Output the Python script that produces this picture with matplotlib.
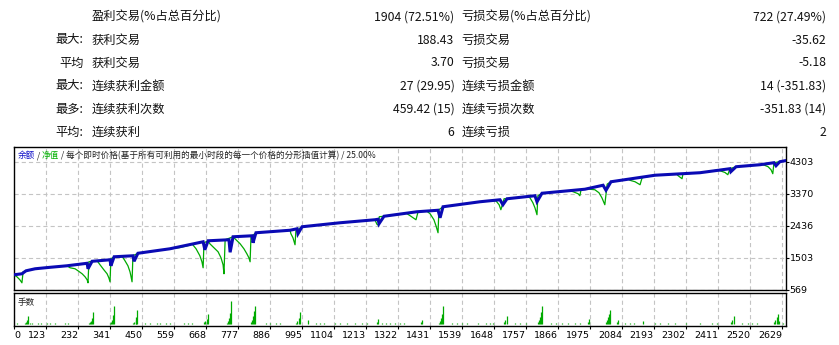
import matplotlib
matplotlib.use('Agg')
import matplotlib.pyplot as plt

plt.rcParams['font.family'] = ['Noto Sans CJK SC', 'DejaVu Sans']
plt.rcParams['lines.scale_dashes'] = False

# ---------------- data ----------------
row_prefix = ['', '最大:', '平均', '最大:', '最多:', '平均:']
left_labels = ['盈利交易(%占总百分比)', '获利交易', '获利交易', '连续获利金额', '连续获利次数', '连续获利']
left_values = ['1904 (72.51%)', '188.43', '3.70', '27 (29.95)', '459.42 (15)', '6']
right_labels = ['亏损交易(%占总百分比)', '亏损交易', '亏损交易', '连续亏损金额', '连续亏损次数', '连续亏损']
right_values = ['722 (27.49%)', '-35.62', '-5.18', '14 (-351.83)', '-351.83 (14)', '2']

bal_trade = [14, 41, 55, 86, 137, 194, 263, 266, 280, 341, 344, 355, 419, 423, 436, 545, 658, 664, 675,
             746, 750, 760, 825, 828, 838, 954, 978, 981, 995, 1124, 1243, 1254, 1257, 1274, 1386, 1458,
             1465, 1475, 1601, 1669, 1679, 1693, 1788, 1795, 1812, 1958, 2020, 2030, 2047, 2197, 2350,
             2452, 2455, 2473, 2554, 2602, 2609, 2622, 2640]
bal_value = [1007, 1036, 1123, 1182, 1225, 1269, 1342, 1182, 1400, 1444, 1269, 1532, 1561, 1400, 1634,
             1765, 1969, 1736, 1998, 2028, 1663, 2115, 2144, 1940, 2232, 2305, 2348, 2203, 2407, 2523,
             2611, 2626, 2494, 2713, 2844, 2888, 2669, 2990, 3136, 3194, 3049, 3223, 3311, 3136, 3384,
             3501, 3617, 3471, 3719, 3909, 3982, 4099, 4011, 4157, 4215, 4274, 4186, 4303, 4332]

eq_trade = [14, 24, 34, 41, 45, 55, 86, 137, 194, 205, 222, 232, 246, 256, 263, 266, 269, 280, 297, 307,
            320, 331, 337, 341, 344, 355, 382, 392, 402, 409, 412, 416, 419, 436, 545, 579, 613, 620, 634,
            647, 654, 658, 661, 675, 681, 695, 709, 719, 726, 729, 733, 760, 770, 784, 797, 807, 814, 818,
            821, 838, 954, 957, 964, 971, 974, 995, 1124, 1243, 1250, 1255, 1258, 1274, 1350, 1363, 1383,
            1390, 1420, 1431, 1444, 1451, 1458, 1461, 1475, 1601, 1655, 1666, 1672, 1683, 1693, 1760,
            1771, 1781, 1788, 1795, 1798, 1812, 1905, 1918, 1935, 1941, 1945, 1968, 1975, 1992, 2006,
            2016, 2023, 2026, 2034, 2047, 2105, 2112, 2129, 2146, 2153, 2197, 2270, 2275, 2289, 2292,
            2350, 2410, 2418, 2435, 2445, 2452, 2473, 2554, 2560, 2570, 2582, 2592, 2598, 2602, 2622, 2640]
eq_value = [1007, 948, 861, 773, 1094, 1123, 1182, 1225, 1269, 1211, 1182, 1123, 1036, 948, 861, 773,
            1386, 1400, 1415, 1298, 1152, 1036, 919, 802, 1473, 1532, 1548, 1415, 1269, 1094, 977, 802,
            1561, 1634, 1765, 1800, 1870, 1911, 1765, 1561, 1386, 1211, 1940, 1998, 1911, 1794, 1677,
            1502, 1298, 1036, 2028, 2115, 2028, 1911, 1765, 1619, 1502, 1386, 2115, 2232, 2305, 2203,
            2086, 1882, 2290, 2407, 2523, 2611, 2480, 2450, 2700, 2713, 2800, 2728, 2611, 2844, 2860,
            2786, 2611, 2436, 2232, 2903, 2990, 3136, 3165, 3049, 2903, 3224, 3223, 3285, 3253, 3107,
            2961, 2757, 3311, 3384, 3460, 3428, 3370, 3311, 3486, 3520, 3500, 3486, 3399, 3253, 3107,
            3049, 3650, 3719, 3795, 3760, 3719, 3632, 3836, 3909, 3945, 3900, 3807, 3944, 3982, 4060,
            4040, 3990, 3924, 4099, 4157, 4215, 4225, 4200, 4157, 4069, 3953, 4274, 4303, 4332]

vol_trade = [24, 50, 54, 58, 62, 68, 75, 96, 106, 126, 137, 154, 188, 198, 268, 272, 276, 280, 283,
             340, 344, 348, 352, 355, 420, 424, 428, 431, 433, 460, 477, 501, 511, 532, 545, 593, 607,
             620, 662, 666, 670, 675, 738, 742, 746, 749, 753, 820, 824, 828, 831, 835, 872, 886, 906,
             920, 975, 979, 983, 988, 1015, 1042, 1056, 1070, 1107, 1124, 1148, 1175, 1199, 1216, 1250,
             1254, 1267, 1281, 1294, 1311, 1329, 1342, 1400, 1403, 1460, 1464, 1468, 1471, 1475, 1506,
             1523, 1540, 1557, 1594, 1621, 1635, 1645, 1683, 1687, 1693, 1720, 1737, 1758, 1797, 1801,
             1805, 1808, 1812, 1843, 1860, 1880, 1901, 1925, 1941, 1968, 1972, 2030, 2034, 2038, 2041,
             2044, 2068, 2071, 2094, 2112, 2125, 2156, 2197, 2214, 2241, 2265, 2303, 2350, 2391, 2408,
             2456, 2460, 2466, 2493, 2514, 2527, 2544, 2603, 2607, 2611, 2616, 2620, 2633]
vol_lots = [0.1, 0.1, 0.2, 0.4, 0.8, 0.1, 0.1, 0.1, 0.1, 0.15, 0.15, 0.1, 0.15, 0.15, 0.1, 0.2, 0.3, 0.6, 1.2,
            0.1, 0.2, 0.4, 0.9, 1.8, 0.1, 0.2, 0.4, 0.7, 1.4, 0.1, 0.1, 0.1, 0.1, 0.1, 0.1, 0.1, 0.1,
            0.1, 0.2, 0.3, 0.5, 1.0, 0.1, 0.3, 0.6, 1.1, 2.3, 0.2, 0.4, 0.8, 1.3, 1.8, 0.1, 0.1, 0.1,
            0.1, 0.1, 0.3, 0.6, 1.2, 0.4, 0.1, 0.1, 0.1, 0.1, 0.1, 0.1, 0.1, 0.1, 0.1, 0.2,
            0.5, 0.1, 0.1, 0.1, 0.1, 0.1, 0.1, 0.2, 0.4, 0.1, 0.3, 0.6, 1.0, 1.8, 0.1,
            0.1, 0.1, 0.1, 0.1, 0.1, 0.1, 0.1, 0.2, 0.4, 0.8, 0.1, 0.1, 0.1, 0.2, 0.4,
            0.7, 1.2, 1.8, 0.1, 0.1, 0.1, 0.1, 0.1, 0.1, 0.2, 0.5, 0.2, 0.4, 0.7, 1.0,
            1.4, 0.2, 0.4, 0.1, 0.1, 0.1, 0.3, 0.1, 0.1, 0.1, 0.1, 0.1, 0.1, 0.1, 0.1,
            0.2, 0.4, 0.8, 0.1, 0.1, 0.1, 0.1, 0.2, 0.4, 0.7, 1.0, 0.3, 0.1]

y_ticks = [569, 1503, 2436, 3370, 4303]
x_ticks = [123, 232, 341, 450, 559, 668, 777, 886, 995, 1104, 1213, 1322, 1431, 1539, 1648, 1757,
           1866, 1975, 2084, 2193, 2302, 2411, 2520, 2629]
x_first_label = '0'

# ---------------- layout ----------------
W, H = 839, 345
fig = plt.figure(figsize=(W / 100, H / 100), dpi=100)
fig.patch.set_facecolor('white')


def fx(px):
    return px / W


def fy(py):
    return 1 - py / H


BLUE = '#0A0AB4'
GREEN = '#00AA00'
GRID = '#C4C4C4'

# table
row_y = [17, 40, 63, 86, 109, 132]
tfs = 8.8
for i, yy in enumerate(row_y):
    if row_prefix[i]:
        fig.text(fx(83.5), fy(yy), row_prefix[i], ha='right', va='center', fontsize=tfs, color='#111')
    fig.text(fx(91.5), fy(yy), left_labels[i], ha='left', va='center', fontsize=tfs, color='#111')
    fig.text(fx(454.5), fy(yy), left_values[i], ha='right', va='center', fontsize=tfs, color='#111')
    fig.text(fx(461.5), fy(yy), right_labels[i], ha='left', va='center', fontsize=tfs, color='#111')
    fig.text(fx(826), fy(yy), right_values[i], ha='right', va='center', fontsize=tfs, color='#111')

L, R = 14, 786
main_top, main_bot = 147, 289.8
vol_top, vol_bot = 292.7, 326

ax = fig.add_axes([fx(L), fy(main_bot), (R - L) / W, (main_bot - main_top) / H])
axv = fig.add_axes([fx(L), fy(vol_bot), (R - L) / W, (vol_bot - vol_top) / H])

xlim = (14, 2643)
dash = (0, (3.0, 2.2))

ax.plot(eq_trade, eq_value, color=GREEN, lw=0.9, zorder=3)
ax.plot(bal_trade, bal_value, color=BLUE, lw=2.2, zorder=4, solid_joinstyle='miter')
ax.set_xlim(*xlim)
ax.set_ylim(569, 4732)
ax.set_yticks(y_ticks)
ax.set_xticks(x_ticks)
ax.yaxis.tick_right()
ax.tick_params(axis='y', direction='out', length=2, width=0.8, pad=0.5, labelsize=7, colors='black')
ax.tick_params(axis='x', length=0, labelbottom=False)
ax.grid(True, color=GRID, linestyle=dash, linewidth=0.8, zorder=0)
for sp in ax.spines.values():
    sp.set_color('black')
    sp.set_linewidth(1.0)
for lab in ax.get_yticklabels():
    lab.set_fontfamily(['DejaVu Sans'])
    lab.set_fontsize(6.8)

axv.vlines(vol_trade, 0, vol_lots, color=GREEN, lw=0.9)
axv.set_xlim(*xlim)
axv.set_ylim(-0.17, 3.13)
axv.set_yticks([])
axv.set_xticks([xlim[0]] + x_ticks)
axv.set_xticklabels([x_first_label] + [str(v) for v in x_ticks])
axv.tick_params(axis='x', direction='out', length=2.5, width=0.8, pad=1.2, labelsize=6.8, colors='black')
for i, lab in enumerate(axv.get_xticklabels()):
    lab.set_fontfamily(['DejaVu Sans'])
    lab.set_ha('left' if i == 0 else 'right')
axv.grid(True, axis='x', color=GRID, linestyle=dash, linewidth=0.8, zorder=0)
for sp in axv.spines.values():
    sp.set_color('black')
    sp.set_linewidth(1.0)

fig.text(fx(17.5), fy(302), '手数', ha='left', va='center', fontsize=6.2, color='#222')

# title line inside chart
renderer = fig.canvas.get_renderer()
segments = [('余额', '#1010C8'), (' / ', '#222'), ('净值', '#00B000'),
            (' / 每个即时价格(基于所有可利用的最小时段的每一个价格的分形插值计算) / 25.00%', '#222')]
xpos = 17.5
for s, c in segments:
    t = fig.text(fx(xpos), fy(155.5), s, ha='left', va='center', fontsize=6.2, color=c)
    bb = t.get_window_extent(renderer)
    xpos = bb.x1

fig.savefig('out.png', dpi=100, facecolor='white')
